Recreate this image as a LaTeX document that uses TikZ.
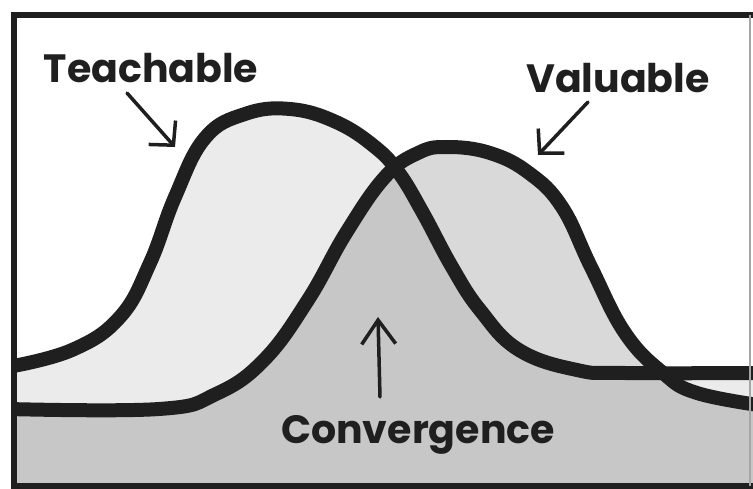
\documentclass[tikz,border=0pt]{standalone}
\usepackage{fontspec}
\setmainfont{Poppins}
\usetikzlibrary{arrows.meta}

\definecolor{teachfill}{gray}{0.92}
\definecolor{valuefill}{gray}{0.85}
\definecolor{bothfill}{gray}{0.78}
\definecolor{ink}{gray}{0.12}

\tikzset{
  curve/.style={line width=14pt, line cap=round, line join=round, draw=ink},
  lbl/.style={font=\fontsize{39.5}{40}\selectfont\bfseries, text=ink, inner sep=0pt},
  pointer/.style={line width=3.5pt, line cap=round, draw=ink,
    -{Straight Barb[length=17pt,width=36pt]}},
  uppointer/.style={line width=3.5pt, line cap=round, draw=ink,
    -{Straight Barb[length=24pt,width=34pt]}}
}

\begin{document}
\begin{tikzpicture}[x=1pt,y=-1pt]
  \useasboundingbox (0,0) rectangle (753,489);

  % Curvas
  \def\teachcurve{plot[smooth,tension=0.7] coordinates {(8,367) (72,350) (120,317) (150,263) (175,197) (205,138) (245,114) (290,109) (336,122) (375,147) (399,173) (423,213) (452,267) (480,310) (519,350) (577,370) (625,373) (765,373)}}
  \def\valuecurve{plot[smooth,tension=0.7] coordinates {(8,409) (159,409) (216,394) (264,360) (308,300) (346,233) (385,177) (418,153) (447,147) (490,153) (529,173) (562,207) (591,267) (625,333) (663,373) (697,393) (765,406)}}

  \begin{scope}
    \clip (14,15) rectangle (753,486);
    % Rellenos
    \fill[teachfill] \teachcurve -- (765,500) -- (0,500) -- cycle;
    \fill[valuefill] \valuecurve -- (765,500) -- (0,500) -- cycle;
    \begin{scope}
      \clip \teachcurve -- (765,500) -- (0,500) -- cycle;
      \fill[bothfill] \valuecurve -- (765,500) -- (0,500) -- cycle;
    \end{scope}
    % Trazos
    \draw[curve] \teachcurve;
    \draw[curve] \valuecurve;
  \end{scope}

  % Marco
  \draw[line width=6pt, draw=ink] (753,15) -- (14,15) -- (14,486) -- (753,486);
  \draw[line width=1.5pt, draw=black!35] (750,15) -- (750,486);

  % Etiquetas
  \node[lbl, anchor=base] (teach) at (151,83) {Teachable};
  \node[lbl, anchor=base] (value) at (618,93) {Valuable};
  \node[lbl, anchor=base] (conv) at (418,443) {Convergence};

  % Flechas
  \coordinate (teachtail) at (127,93);
  \coordinate (teachtip) at (175,147);
  \coordinate (valuetail) at (588,102);
  \coordinate (valuetip) at (538,155);
  \coordinate (convtail) at (380,397);
  \coordinate (convtip) at (378,317);
  \draw[pointer] (teachtail) -- (teachtip);
  \draw[pointer] (valuetail) -- (valuetip);
  \draw[uppointer] (convtail) -- (convtip);
\end{tikzpicture}
\end{document}
